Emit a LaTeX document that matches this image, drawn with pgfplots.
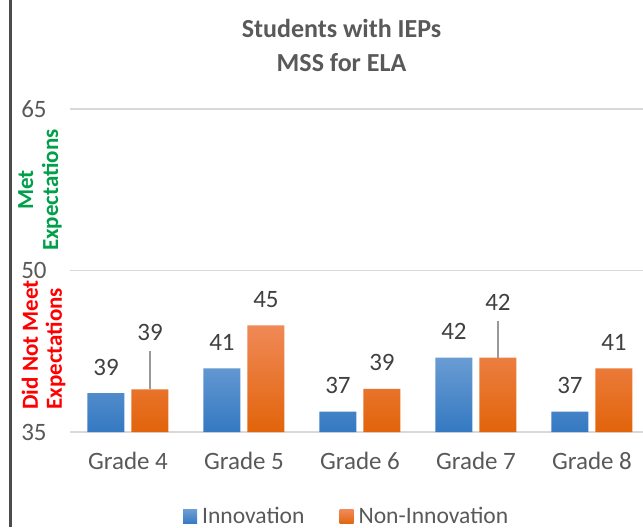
\documentclass[border=0pt]{standalone}
\usepackage{pgfplots}
\pgfplotsset{compat=1.18}
\usepackage{pgfplotstable}
\usepackage{fontspec}
\setmainfont{Carlito}
\definecolor{txt}{HTML}{595959}
\definecolor{lbl}{HTML}{404040}
\definecolor{gridc}{HTML}{D9D9D9}
\definecolor{bTop}{HTML}{6A9CD3}
\definecolor{bBot}{HTML}{3479C2}
\definecolor{oTop}{HTML}{F08957}
\definecolor{oMid}{HTML}{F57B20}
\definecolor{oBot}{HTML}{E2640B}
\definecolor{metgreen}{HTML}{00A04A}
\definecolor{notred}{HTML}{FF0000}

\pgfplotstableread{
x y lift err
0 38.6 8.75 0
1 40.9 8.75 0
2 36.9 8.75 0
3 41.9 8.75 0
4 36.9 8.75 0
}\innov
\pgfplotstableread{
x y lift err
0 38.95 24 3.62
1 44.9 8.75 0
2 39.0 8.75 0
3 41.9 23.5 3.44
4 40.9 8.75 0
}\noninnov

\begin{document}
\begin{tikzpicture}
\useasboundingbox (0,0) rectangle (321.5pt,263.5pt);
\draw[black!70, line width=1.1pt] (5.2pt,0) -- (5.2pt,263.5pt);
\node[align=center, font=\bfseries\fontsize{13}{17}\selectfont, text=txt] at (170.75pt,241pt) {Students with IEPs\\MSS for ELA};
\node[rotate=90, align=center, font=\bfseries\fontsize{11.5}{12.5}\selectfont, text=metgreen] at (20pt,168.5pt) {Met\\Expectations};
\node[rotate=90, align=left, anchor=west, inner sep=0pt, font=\bfseries\fontsize{11.5}{12}\selectfont, text=notred] at (21.75pt,58.5pt) {Did Not Meet\\Expectations};
\begin{axis}[
 at={(35pt,47.5pt)}, anchor=south west,
 scale only axis, width=286.5pt, height=161.5pt,
 ybar=3.5pt, bar width=18.5pt,
 y coord trafo/.code={\pgfmathparse{#1-35}},
 y coord inv trafo/.code={\pgfmathparse{#1+35}},
 xmin=-0.5, xmax=4.44, ymin=35, ymax=65,
 ytick={35,50,65}, yticklabels={35,50,65},
 xtick={0,...,4}, xticklabels={Grade 4,Grade 5,Grade 6,Grade 7,Grade 8},
 axis line style={draw=none}, major tick length=0pt,
 ymajorgrids, grid style={gridc, line width=0.8pt},
 ticklabel style={font=\fontsize{12.5}{15}\selectfont, text=txt},
 yticklabel style={anchor=east, inner sep=0pt, xshift=-11.5pt},
 xticklabel style={anchor=north, inner sep=0pt, yshift=-10pt},
 /pgf/number format/assume math mode=true,
 point meta=explicit,
 nodes near coords={\pgfmathprintnumber[fixed,precision=0]{\pgfplotspointmeta}},
 nodes near coords style={font=\fontsize{12.5}{15}\selectfont, text=lbl, anchor=south, inner sep=0pt},
 legend columns=2,
 legend style={at={(0.4855,-0.263)}, anchor=center, draw=none, fill=none,
   font=\fontsize{11.8}{14}\selectfont, text=txt,
   /tikz/every even column/.append style={column sep=15pt},
   nodes={inner xsep=2.5pt, inner ysep=0pt}},
]
\addplot[draw=none, top color=bTop, bottom color=bBot,
  visualization depends on=\thisrow{lift} \as \lift,
  every node near coord/.append style={yshift=\lift pt},
  legend image code/.code={\path[top color=bTop, bottom color=bBot, draw=none] (0pt,-3.5pt) rectangle (7pt,3.5pt);}]
  table[x=x, y=y, meta=y] {\innov};
\addlegendentry{Innovation}
\addplot[draw=none, top color=oTop, middle color=oMid, bottom color=oBot,
  visualization depends on=\thisrow{lift} \as \lift,
  every node near coord/.append style={yshift=\lift pt},
  error bars/.cd, y dir=plus, y explicit, error mark=none,
  error bar style={draw=gray!80, line width=0.75pt, top color=gray, bottom color=gray},
  /pgfplots/legend image code/.code={\path[top color=oTop, bottom color=oBot, draw=none] (0pt,-3.5pt) rectangle (7pt,3.5pt);}]
  table[x=x, y=y, meta=y, y error plus=err] {\noninnov};
\addlegendentry{Non-Innovation}
\end{axis}
\end{tikzpicture}
\end{document}
